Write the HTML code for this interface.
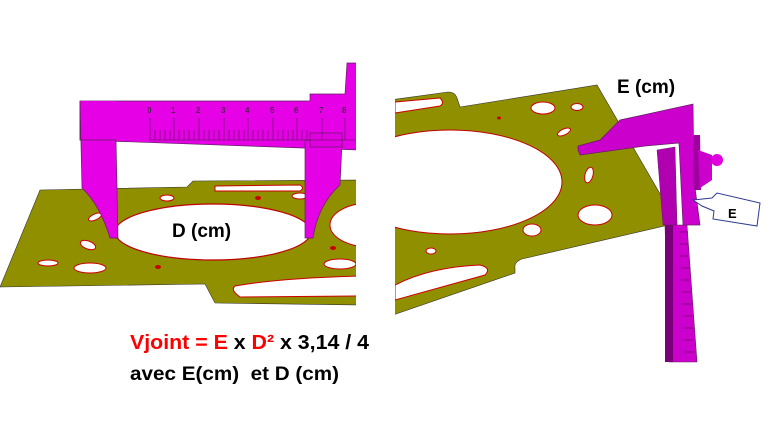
<!DOCTYPE html>
<html><head><meta charset="utf-8"><style>
html,body{margin:0;padding:0;background:#fff;width:769px;height:426px;overflow:hidden}
svg{display:block}
text{font-family:"Liberation Sans",sans-serif;font-weight:bold}
</style></head><body>
<svg width="769" height="426" viewBox="0 0 769 426">
<defs>
<clipPath id="cl"><rect x="0" y="0" width="356" height="426"/></clipPath>
<clipPath id="cr"><rect x="395" y="0" width="374" height="426"/></clipPath>
</defs>
<g clip-path="url(#cl)">
<path d="M40,190 L187,187 L193,181 L360,180 L360,305 L215,303 L205,284 L0,287 Z" fill="#8f8f00" stroke="#333" stroke-width="0.6"/>
<ellipse cx="213" cy="232" rx="98" ry="28" fill="#fff" stroke="#c00000" stroke-width="1.2"/>
<ellipse cx="370" cy="225" rx="40" ry="22" fill="#fff" stroke="#c00" stroke-width="1"/>
<ellipse cx="95" cy="217" rx="7" ry="3" fill="#fff" stroke="#c00" transform="rotate(-25 95 217)"/>
<ellipse cx="88" cy="245" rx="8" ry="4" fill="#fff" stroke="#c00" transform="rotate(20 88 245)"/>
<ellipse cx="48" cy="263" rx="10" ry="3" fill="#fff" stroke="#c00"/>
<ellipse cx="90" cy="268" rx="16" ry="5" fill="#fff" stroke="#c00"/>
<ellipse cx="167" cy="198" rx="7" ry="3" fill="#fff" stroke="#c00"/>
<ellipse cx="258" cy="198" rx="3" ry="2" fill="#c00"/>
<ellipse cx="158" cy="267" rx="3" ry="2" fill="#c00"/>
<ellipse cx="300" cy="196" rx="8" ry="3" fill="#fff" stroke="#c00"/>
<ellipse cx="333" cy="248" rx="3" ry="2" fill="#c00"/>
<ellipse cx="340" cy="264" rx="16" ry="5" fill="#fff" stroke="#c00"/>
<path d="M235,286 Q280,278 360,276 L360,296 L240,297 Q230,290 235,286Z" fill="#fff" stroke="#c00"/>
<path d="M215,186 L300,185 Q305,188 300,191 L215,191 Z" fill="#fff" stroke="#c00"/>
<path d="M80,101 L310,101 L310,94 L345,94 L347,63 L360,63 L360,150 L80,140 Z" fill="#e600e6" stroke="#602060" stroke-width="0.7"/>
<rect x="80" y="101" width="35" height="39" fill="#e600e6"/>
<path d="M80,101 L82,188 Q100,205 110,238 L118,238 L116,140 L80,140 Z" fill="#e600e6" stroke="#602060" stroke-width="0.7"/>
<path d="M305,140 L305,238 L313,238 Q318,205 340,185 L342,143 Z" fill="#e600e6" stroke="#602060" stroke-width="0.7"/>
<rect x="310" y="133" width="32" height="14" fill="#e000e0" stroke="#602060" stroke-width="0.7"/>
<g stroke="#502050" stroke-width="0.6">
<line x1="150" y1="140" x2="356" y2="140"/>
<path d="M150,140 V118 M174,140 V118 M199,140 V118 M224,140 V118 M248,140 V118 M273,140 V118 M297,140 V118 M322,140 V118 M345,140 V118"/>
<path d="M155,140V130M160,140V130M165,140V130M170,140V130M179,140V130M184,140V130M189,140V130M194,140V130M204,140V130M209,140V130M214,140V130M219,140V130M229,140V130M234,140V130M239,140V130M244,140V130M253,140V130M258,140V130M263,140V130M268,140V130M278,140V130M283,140V130M288,140V130M293,140V130M302,140V130M307,140V130"/>
</g>
<g font-size="8" fill="#502050">
<text x="147" y="113">0</text><text x="171" y="113">1</text><text x="196" y="113">2</text><text x="221" y="113">3</text><text x="245" y="113">4</text><text x="270" y="113">5</text><text x="294" y="113">6</text><text x="319" y="113">7</text><text x="342" y="113">8</text>
</g>
<text x="172" y="237" font-size="19" fill="#000">D (cm)</text>
</g>
<g clip-path="url(#cr)">
<path d="M390,100 L448,92 Q455,92 457,98 L460,107 L597,85 L677,223 L522,259 Q514,262 515,268 L515,273 L390,316 Z" fill="#8f8f00" stroke="#333" stroke-width="0.6"/>
<ellipse cx="450" cy="182" rx="112" ry="52" fill="#fff" stroke="#c00000" stroke-width="1"/>
<ellipse cx="543" cy="108" rx="12" ry="6" fill="#fff" stroke="#c00"/>
<ellipse cx="577" cy="107" rx="6" ry="3.5" fill="#fff" stroke="#c00"/>
<ellipse cx="499" cy="118" rx="2" ry="1.5" fill="#c00"/>
<ellipse cx="564" cy="132" rx="7" ry="3" fill="#fff" stroke="#c00" transform="rotate(-25 564 132)"/>
<ellipse cx="589" cy="175" rx="4" ry="8" fill="#fff" stroke="#c00" transform="rotate(15 589 175)"/>
<ellipse cx="595" cy="215" rx="17" ry="10" fill="#fff" stroke="#c00"/>
<ellipse cx="532" cy="230" rx="9" ry="6" fill="#fff" stroke="#c00"/>
<ellipse cx="431" cy="251" rx="5" ry="3" fill="#fff" stroke="#c00"/>
<path d="M395,285 Q430,267 480,265 Q492,268 485,275 L395,300 Z" fill="#fff" stroke="#c00"/>
<path d="M395,102 L440,98 Q445,103 440,106 L395,113Z" fill="#fff" stroke="#c00"/>
<path d="M665,225 L687,225 L697,362 L669,362 Z" fill="#cc00cc" stroke="#602060" stroke-width="0.6"/>
<rect x="665" y="225" width="8" height="137" fill="#7a007a"/>
<g stroke="#400040" stroke-width="0.6">
<path d="M680,232H688M680,244H688M680,256H688M681,268H690M681,280H690M682,292H691M682,304H692M683,316H692M683,328H693M684,340H694M684,352H695"/>
</g>
<path d="M578,150 L578,146 L600,140 L620,120 L693,104 L694,180 L700,225 L683,225 L679,143 L645,146 L580,155 Z" fill="#cc00cc" stroke="#602060" stroke-width="0.7"/>
<path d="M693,135 L700,135 L701,190 L694,190 Z" fill="#a000a0"/>
<path d="M698,150 L712,155 L712,180 L700,188 Z" fill="#cc00cc"/>
<circle cx="717" cy="160" r="6" fill="#e000e0"/>
<path d="M657,150 L675,147 L677,225 L663,225 Z" fill="#b000b0" stroke="#602060" stroke-width="0.5"/>
<g>
<path d="M693,200 L712,198 L717,193 L760,203 L757,226 L713,219 L714,211 L702,206 Z" fill="#fff" stroke="#2f3a8f" stroke-width="1"/>
<text x="728" y="218" font-size="13" fill="#000">E</text>
</g>
</g>
<text x="617" y="93" font-size="19" fill="#000">E (cm)</text>
<text x="130" y="349" font-size="20" textLength="239" lengthAdjust="spacingAndGlyphs"><tspan fill="#ff0000">Vjoint = E</tspan><tspan fill="#000"> x </tspan><tspan fill="#ff0000">D²</tspan><tspan fill="#000"> x 3,14 / 4</tspan></text>
<text x="130" y="380" font-size="19" fill="#000" textLength="209" lengthAdjust="spacingAndGlyphs" xml:space="preserve">avec E(cm)  et D (cm)</text>
</svg>
</body></html>
